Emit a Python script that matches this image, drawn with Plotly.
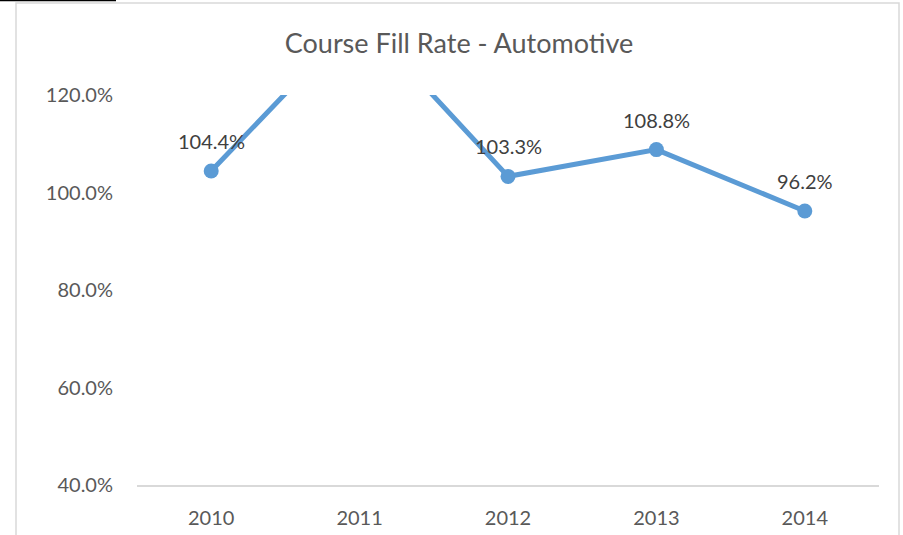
import plotly.graph_objects as go

years = ["2010", "2011", "2012", "2013", "2014"]
fill_rate = [104.4, 136.2, 103.3, 108.8, 96.2]
y_ticks = [40, 60, 80, 100, 120]
y_range = [40, 120]

W, H = 903, 535
ML, MR, MT, MB = 137, 24, 95, 50
pw, ph = W - ML - MR, H - MT - MB

def px_x(p):
    return (p - ML) / pw

def px_y(p):
    return (H - MB - p) / ph

FONT = "Lato, Open Sans, sans-serif"

fig = go.Figure()
fig.add_trace(go.Scatter(
    x=years, y=fill_rate, mode="lines+markers",
    line=dict(color="#5B9BD5", width=5),
    marker=dict(color="#5B9BD5", size=15),
    cliponaxis=True, hoverinfo="skip", showlegend=False,
))

annotations = []
for i, v in enumerate(fill_rate):
    if y_range[0] <= v <= y_range[1]:
        annotations.append(dict(
            x=i, y=v, xref="x", yref="y", text=f"{v:.1f}%",
            showarrow=False, yshift=30,
            font=dict(family=FONT, size=20, color="#404040"),
        ))

shapes = [
    dict(type="rect", xref="paper", yref="paper",
         x0=px_x(16), x1=px_x(899), y0=px_y(560), y1=px_y(3),
         line=dict(color="#D9D9D9", width=1.5), fillcolor="rgba(0,0,0,0)"),
    dict(type="line", xref="paper", yref="paper",
         x0=px_x(0), x1=px_x(116), y0=px_y(0.5), y1=px_y(0.5),
         line=dict(color="black", width=1.5)),
]

fig.update_layout(
    width=W, height=H,
    margin=dict(l=ML, r=MR, t=MT, b=MB),
    paper_bgcolor="white", plot_bgcolor="white",
    title=dict(text="Course Fill Rate - Automotive", x=459 / W, xanchor="center",
               y=1 - 44 / H, yanchor="middle",
               font=dict(family=FONT, size=27, color="#595959")),
    xaxis=dict(type="category", range=[-0.5, 4.5], showgrid=False, automargin=False,
               showline=True, linecolor="#D9D9D9", linewidth=1.5,
               ticks="", ticklabelstandoff=14,
               tickfont=dict(family=FONT, size=20, color="#595959")),
    yaxis=dict(range=y_range, tickvals=y_ticks, ticktext=[f"{t:.1f}%" for t in y_ticks],
               showgrid=False, zeroline=False, showline=False, ticks="", automargin=False,
               ticklabelstandoff=23,
               tickfont=dict(family=FONT, size=20, color="#595959")),
    annotations=annotations,
    shapes=shapes,
)

fig.write_html("out.html", config={"displayModeBar": False},
               post_script="document.body.style.margin='0';document.body.style.overflow='hidden';")
